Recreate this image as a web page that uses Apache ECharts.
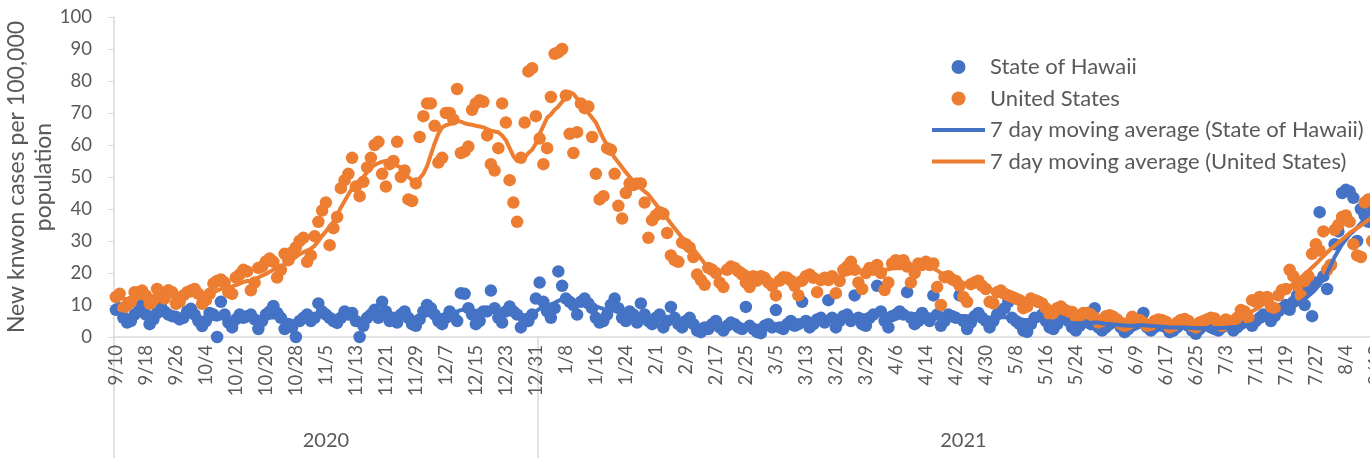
<!DOCTYPE html>
<html>
<head>
<meta charset="utf-8">
<script src="https://cdn.jsdelivr.net/npm/echarts@6/dist/echarts.min.js"></script>
<style>
html,body{margin:0;padding:0;background:#fff;}
#chart{width:1370px;height:458px;}
</style>
</head>
<body>
<div id="chart"></div>
<script>
// ---- data ----
const START_DATE = [2020, 9, 10];   // first category: 9/10/2020
const DAY_COUNT = 340;             // daily categories shown (through mid Aug 2021)
const YEAR_NAMES = ['2020', '2021'];
const yTicks = [0, 10, 20, 30, 40, 50, 60, 70, 80, 90, 100];

const hawaiiDaily = [
  8.5, 9, 6, 4.5, 5, 7, 8, 10, 7, 4,
  5.5, 7.5, 10.5, 8, 7, 6.5, 6.3, 5.5, 6, 8,
  8.8, 7, 5, 3.4, 5, 7.5, 7, 0, 11, 7,
  4.5, 3, 5.5, 7, 6, 6.5, 7, 5.5, 2.5, 5,
  7, 8, 9.7, 7.5, 6, 2.5, 4, 3, 0, 5,
  6, 7, 5, 6, 10.5, 8, 7, 6, 5, 4.4,
  6, 8, 7, 7.5, 5, 0, 3.5, 6, 7, 8.5,
  6, 11, 8, 5, 6, 4.5, 7, 8, 6, 4,
  3.5, 5.5, 8, 10, 9, 7, 5, 4, 6, 8,
  6.5, 5, 13.7, 13.5, 9, 7, 4, 5, 8, 8,
  14.5, 9, 6, 4.5, 8, 9.5, 8, 7, 3, 5,
  5, 7, 12, 17, 11, 8, 6, 9, 20.5, 16,
  12, 11, 10, 7, 11, 12, 10.5, 9, 6, 4.5,
  5, 7, 10, 12, 9, 6, 5, 8, 7, 4.5,
  10.5, 7, 5, 4, 6, 7, 3, 5, 9.4, 6,
  4, 3, 5, 6, 4, 2, 1.5, 3, 2.5, 4,
  5, 3, 2, 3.5, 4.5, 4, 3, 2.5, 9.4, 3.5,
  2.5, 1.5, 1.2, 3.5, 4, 3, 8.4, 3, 2.5, 4,
  5, 3.5, 4, 11, 5, 3, 4, 5.5, 6, 4.5,
  11.5, 6, 3, 5, 6.5, 7, 5, 13, 6, 4,
  3.5, 6, 7, 16, 8, 5, 3, 6.5, 7, 8,
  7, 14, 6, 4, 5, 7.5, 6, 5, 13, 7,
  3.5, 5, 7, 6.5, 6, 13, 5, 2.5, 4.5, 6.5,
  7.5, 6, 5, 3, 5, 7, 8, 9, 11, 6,
  5, 4, 2, 1.6, 4, 6, 11, 7, 5, 3,
  2.5, 4, 5.5, 6, 5, 3, 2, 3.5, 4.5, 5,
  4, 9, 3, 2, 3, 4, 5, 4.5, 3, 1.5,
  2.5, 3.5, 4, 4.5, 7.5, 3, 2, 3, 4, 3.5,
  3, 1.5, 2, 3, 4, 4.5, 3.5, 2, 1, 2.5,
  3.5, 4, 3, 2.5, 2, 3, 4, 3.5, 2, 3,
  4, 5, 4.5, 3.5, 5, 6, 7, 6.5, 5, 6.5,
  8, 9, 10, 8.5, 11, 13, 12, 10, 15, 6.5,
  17, 39, 19, 15, 22.5, 29, 33, 45, 46, 45.5,
  43.5, 30, 40, 38, 36, 41, 44, 43, 45, 47
];

const usDaily = [
  12.5, 13.5, 9, 10, 11, 14, 14, 14.5, 13, 10.4,
  11.5, 15, 13.5, 12, 14.6, 14, 10.4, 11, 13, 14,
  14.5, 15, 13.5, 10.4, 11.5, 13.5, 16.7, 17.5, 18, 17,
  14, 13.5, 18.6, 19.5, 21, 20.5, 14.6, 17, 21.6, 22,
  23.6, 24.5, 23.5, 18.6, 21, 26, 24, 26.5, 28, 30,
  31, 23.5, 25.5, 31.5, 36, 39.5, 42, 28.7, 34, 37.5,
  46.5, 49, 51, 56, 47, 44, 48.5, 53, 56, 60,
  61, 51, 47, 54, 55, 61, 50, 52, 43, 42.5,
  48, 62.5, 69, 73, 73, 66, 54.5, 56, 70, 70,
  68, 77.5, 57.5, 58, 59.5, 71, 73, 74, 73.5, 63,
  54, 52, 59, 73, 67, 49, 42, 36, 56, 67,
  83, 84, 69, 62, 54, 59, 75, 88.5, 89, 90,
  75.5, 63.5, 57.5, 64, 73, 71.5, 72, 62.5, 51, 43,
  44, 59, 58.5, 51, 41, 37, 45, 48, 47.5, 48,
  48, 42, 31, 36.5, 38, 39, 38.5, 32.5, 25.5, 24,
  23.5, 29.5, 29, 28, 25, 19.5, 17.8, 16.3, 21.6, 21,
  20, 17, 15.6, 21, 22, 21.6, 20.5, 19.5, 17, 15.6,
  19, 17.6, 19, 18.5, 17, 16, 13, 17.6, 18.7, 18.5,
  17.6, 16, 13, 17.6, 19, 19.5, 18.5, 14, 17.8, 18.5,
  17.8, 19, 13.7, 17.5, 21, 22, 23.5, 21, 17, 15,
  20, 21.6, 21, 22.5, 20, 14.7, 17, 23, 24, 23.5,
  24, 22, 17, 20, 23, 22.5, 23.5, 22.5, 23, 15.6,
  10, 18.7, 19, 18, 17.5, 16, 12.5, 11, 16.5, 17,
  17.6, 16, 15, 11, 10.5, 14, 14.5, 13.5, 13, 12.5,
  12, 11.5, 9, 9.5, 12, 11.5, 11, 10.5, 9, 7,
  7.5, 9, 9.5, 8.5, 8, 7.8, 6, 6.5, 7.5, 7.5,
  7, 6, 4.5, 5, 6.5, 6.8, 6.3, 5.5, 4, 3.5,
  4, 6.3, 5.5, 5.3, 4.5, 3.5, 3.8, 5, 5.5, 5.2,
  4.8, 3, 3.5, 4.5, 5.3, 5.6, 5, 3.5, 3, 4.5,
  5, 5.5, 6, 5.8, 4, 3.5, 5.5, 5, 4.5, 6,
  8.4, 8, 6, 11.5, 11, 12.5, 12, 12.5, 9.5, 9,
  13, 14.7, 15, 21, 19, 16, 13, 17.5, 19, 26,
  29, 27, 33, 21, 22.5, 33.5, 35, 37.5, 38, 36,
  29, 25.5, 25, 42, 43, 30, 31, 40, 44, 45
];

const hawaiiAvg7 = [
  7.5, 7.3, 7.0, 6.8, 6.7, 6.8, 7.0, 7.2, 7.1, 7.0,
  7.0, 7.2, 7.3, 7.2, 7.0, 6.8, 6.7, 6.6, 6.6, 6.7,
  6.7, 6.5, 6.2, 6.0, 5.9, 5.8, 5.6, 5.4, 5.8, 5.9,
  5.8, 5.6, 5.5, 5.6, 5.8, 6.0, 6.0, 5.8, 5.6, 5.5,
  5.7, 6.0, 6.2, 6.1, 5.9, 5.6, 5.3, 5.0, 4.9, 5.0,
  5.2, 5.5, 5.7, 6.0, 6.5, 6.8, 6.9, 6.8, 6.7, 6.5,
  6.4, 6.3, 6.2, 6.0, 5.8, 5.6, 5.5, 5.6, 5.9, 6.2,
  6.6, 7.0, 7.2, 7.0, 6.8, 6.6, 6.5, 6.4, 6.2, 6.0,
  6.0, 6.2, 6.5, 6.8, 7.0, 7.0, 6.9, 6.8, 7.0, 7.3,
  7.6, 8.0, 8.4, 8.6, 8.5, 8.3, 8.2, 8.3, 8.5, 8.7,
  8.8, 8.7, 8.5, 8.3, 8.0, 7.7, 7.4, 7.0, 6.8, 6.8,
  7.0, 7.4, 8.0, 8.8, 9.4, 9.8, 10.2, 10.7, 11.3, 11.8,
  12.0, 11.8, 11.5, 11.2, 10.9, 10.6, 10.3, 10.0, 9.6, 9.2,
  8.8, 8.5, 8.3, 8.2, 8.0, 7.8, 7.6, 7.3, 7.0, 6.8,
  6.7, 6.6, 6.4, 6.2, 6.0, 5.8, 5.6, 5.4, 5.2, 5.0,
  4.8, 4.6, 4.4, 4.2, 4.0, 3.8, 3.6, 3.4, 3.3, 3.2,
  3.1, 3.0, 3.0, 3.1, 3.2, 3.3, 3.3, 3.4, 3.5, 3.6,
  3.6, 3.5, 3.5, 3.6, 3.7, 3.8, 3.9, 4.0, 4.1, 4.2,
  4.3, 4.4, 4.6, 4.9, 5.2, 5.4, 5.6, 5.8, 5.9, 6.0,
  6.2, 6.3, 6.4, 6.5, 6.6, 6.6, 6.6, 6.7, 6.8, 6.8,
  6.8, 6.9, 7.0, 7.2, 7.3, 7.3, 7.2, 7.2, 7.2, 7.3,
  7.3, 7.4, 7.3, 7.2, 7.1, 7.1, 7.0, 7.0, 7.1, 7.0,
  6.9, 6.8, 6.8, 6.8, 6.7, 6.6, 6.6, 6.5, 6.4, 6.3,
  6.2, 6.1, 6.0, 6.0, 6.0, 6.1, 6.2, 6.2, 6.1, 6.0,
  5.8, 5.6, 5.4, 5.3, 5.2, 5.2, 5.3, 5.2, 5.0, 4.9,
  4.8, 4.7, 4.6, 4.5, 4.5, 4.4, 4.3, 4.3, 4.3, 4.4,
  4.4, 4.5, 4.5, 4.3, 4.1, 4.0, 3.9, 3.8, 3.7, 3.6,
  3.5, 3.5, 3.6, 3.7, 3.7, 3.6, 3.5, 3.4, 3.3, 3.2,
  3.1, 3.0, 3.0, 3.0, 3.0, 3.0, 2.9, 2.8, 2.7, 2.7,
  2.7, 2.8, 2.8, 2.8, 2.8, 2.8, 2.9, 3.0, 3.1, 3.2,
  3.4, 3.6, 3.8, 4.1, 4.4, 4.8, 5.2, 5.6, 6.0, 6.5,
  7.0, 7.6, 8.2, 8.8, 9.5, 10.2, 11.0, 11.8, 12.8, 13.8,
  15.0, 16.5, 18.0, 20.0, 22.5, 25.0, 27.0, 29.0, 30.5, 32.0,
  33.0, 34.2, 35.5, 36.8, 38.0, 39.2, 40.3, 41.4, 42.5, 43.5
];

const usAvg7 = [
  12, 12.1, 12, 11.8, 11.7, 11.9, 12.1, 12.3, 12.4, 12.3,
  12.2, 12.5, 12.8, 12.9, 12.8, 12.6, 12.5, 12.6, 12.7, 12.9,
  13.0, 13.1, 13.0, 12.9, 13.2, 13.6, 14.0, 14.5, 15.0, 15.4,
  15.5, 15.8, 16.2, 16.7, 17.2, 17.5, 17.6, 18.0, 18.6, 19.2,
  19.7, 20.4, 21.0, 21.6, 22.2, 22.6, 23.3, 24.2, 25.0, 25.9,
  26.5, 27.0, 27.6, 28.5, 30.0, 31.6, 33.0, 34.5, 36.0, 38.0,
  40.5, 42.5, 44.5, 46.5, 47.8, 49.0, 50.0, 51.5, 52.8, 53.8,
  54.3, 54.8, 55.0, 54.8, 54.3, 53.5, 53.0, 51.8, 50.0, 49.0,
  48.5, 49.5, 51.0, 53.5, 57.0, 60.5, 63.5, 65.5, 66.2, 66.5,
  67.0, 67.5, 67.3, 66.8, 66.5, 66.3, 66.0, 65.8, 65.5, 65.0,
  64.5, 64.2, 64.0, 63.0, 61.5, 59.0, 56.5, 55.0, 55.3, 56.0,
  57.5, 58.5, 60.5, 63.5, 66.0, 68.5, 69.5, 71.0, 72.0, 73.5,
  75.0, 76.5, 76.0, 74.5, 73.0, 71.5, 70.0, 68.5, 67.0, 64.5,
  62.0, 60.0, 58.0, 56.0, 54.5, 53.0, 51.5, 50.0, 48.8, 47.5,
  46.5, 45.5, 44.5, 43.0, 41.5, 40.0, 38.5, 37.0, 35.5, 34.0,
  32.5, 31.0, 29.7, 28.5, 27.5, 26.0, 24.5, 23.0, 22.0, 21.0,
  20.5, 20.3, 20.5, 20.8, 21.0, 21.3, 21.5, 21.3, 20.5, 19.8,
  19.3, 19.0, 18.5, 18.0, 17.8, 17.5, 17.2, 17.0, 17.2, 17.5,
  17.8, 18.0, 18.0, 18.3, 18.5, 18.7, 18.8, 18.8, 18.6, 18.3,
  18.0, 18.2, 18.5, 19.0, 19.3, 19.6, 20.0, 20.2, 20.3, 20.4,
  20.5, 20.6, 20.8, 21.0, 21.0, 21.0, 21.2, 21.4, 21.5, 21.5,
  21.7, 21.8, 21.6, 21.4, 21.3, 21.4, 21.6, 21.7, 21.5, 20.8,
  20.0, 19.3, 18.8, 18.3, 17.8, 17.4, 16.9, 16.5, 16.2, 16.0,
  15.8, 15.5, 15.2, 14.8, 14.3, 13.9, 13.5, 13.2, 13.0, 12.6,
  12.2, 11.8, 11.5, 11.2, 10.9, 10.6, 10.3, 10.0, 9.8, 9.5,
  9.2, 9.0, 8.7, 8.4, 8.1, 7.8, 7.6, 7.4, 7.2, 7.0,
  6.8, 6.6, 6.4, 6.2, 6.1, 6.0, 5.9, 5.7, 5.6, 5.5,
  5.4, 5.3, 5.2, 5.1, 5.0, 4.9, 4.8, 4.8, 4.7, 4.7,
  4.7, 4.6, 4.6, 4.6, 4.6, 4.6, 4.6, 4.6, 4.6, 4.6,
  4.6, 4.7, 4.8, 4.9, 5.0, 5.0, 5.1, 5.2, 5.4, 5.7,
  6.2, 6.8, 7.4, 8.0, 8.7, 9.4, 10.2, 10.9, 11.6, 12.3,
  13.0, 13.8, 14.8, 15.8, 16.7, 17.6, 18.6, 19.6, 20.6, 21.7,
  22.8, 24.0, 25.2, 26.4, 27.5, 28.5, 29.5, 30.5, 31.5, 32.5,
  33.3, 34.0, 34.8, 35.7, 36.6, 37.4, 38.2, 39.0, 39.8, 40.5
];

const seriesNames = [
  'State of Hawaii',
  'United States',
  '7 day moving average (State of Hawaii)',
  '7 day moving average (United States)'
];
const yAxisTitle = 'New knwon cases per 100,000\npopulation';

// ---- categories ----
const dateLabels = [];
const yearOfDay = [];
const t0 = Date.UTC(START_DATE[0], START_DATE[1] - 1, START_DATE[2]);
for (let i = 0; i < DAY_COUNT; i++) {
  const d = new Date(t0 + i * 86400000);
  dateLabels.push((d.getUTCMonth() + 1) + '/' + d.getUTCDate());
  yearOfDay.push(String(d.getUTCFullYear()));
}
const yearStart = {}, yearEnd = {};
yearOfDay.forEach((y, i) => { if (!(y in yearStart)) yearStart[y] = i; yearEnd[y] = i; });
const yearMid = {};
YEAR_NAMES.forEach(y => { yearMid[y] = Math.floor((yearStart[y] + yearEnd[y]) / 2); });
const yearStartIdx = new Set(YEAR_NAMES.map(y => yearStart[y]));
const yearMidIdx = new Set(YEAR_NAMES.map(y => yearMid[y]));

const BLUE = '#4472C4', ORANGE = '#ED7D31', TXT = '#595959', AXIS = '#d9d9d9';
const FONT = 'Lato, "Open Sans", sans-serif';
const LINE_ICON = 'path://M0,0L53,0L53,4L0,4Z';

const chart = echarts.init(document.getElementById('chart'), null, {renderer: 'canvas'});
chart.setOption({
  animation: false,
  backgroundColor: '#ffffff',
  textStyle: {fontFamily: FONT, color: TXT},
  grid: {left: 114, top: 17, right: -19, bottom: 121, containLabel: false, outerBoundsMode: 'none'},
  legend: {
    orient: 'vertical',
    left: 927,
    top: 51,
    itemWidth: 53,
    itemHeight: 14,
    itemGap: 9.5,
    textStyle: {fontFamily: FONT, fontSize: 22, color: TXT, lineHeight: 22},
    data: [
      {name: seriesNames[0], icon: 'circle'},
      {name: seriesNames[1], icon: 'circle'},
      {name: seriesNames[2], icon: LINE_ICON},
      {name: seriesNames[3], icon: LINE_ICON}
    ]
  },
  xAxis: [
    {
      type: 'category',
      data: dateLabels,
      boundaryGap: true,
      axisLine: {show: true, lineStyle: {color: AXIS, width: 1.5}},
      axisTick: {show: false},
      axisLabel: {interval: 7, rotate: 90, fontSize: 18.5, color: TXT, fontFamily: FONT, margin: 8}
    },
    {
      type: 'category',
      data: yearOfDay,
      position: 'bottom',
      boundaryGap: true,
      axisLine: {show: false},
      axisTick: {
        show: true,
        alignWithLabel: false,
        interval: (idx) => yearStartIdx.has(idx),
        length: 125,
        lineStyle: {color: AXIS, width: 1.5}
      },
      axisLabel: {
        interval: (idx) => yearMidIdx.has(idx),
        fontSize: 20, color: TXT, fontFamily: FONT, margin: 94
      },
      splitLine: {show: false}
    }
  ],
  yAxis: {
    type: 'value',
    min: yTicks[0],
    max: yTicks[yTicks.length - 1],
    interval: yTicks[1] - yTicks[0],
    name: yAxisTitle,
    nameLocation: 'middle',
    nameRotate: 90,
    nameGap: 57,
    nameMoveOverlap: false,
    nameTextStyle: {fontSize: 23, color: TXT, fontFamily: FONT, lineHeight: 27},
    axisLine: {show: true, lineStyle: {color: AXIS, width: 1.5}},
    axisTick: {show: true, length: 6, lineStyle: {color: AXIS}},
    axisLabel: {fontSize: 18.5, color: TXT, fontFamily: FONT, margin: 22},
    splitLine: {show: false}
  },
  series: [
    {
      name: seriesNames[0], type: 'scatter', data: hawaiiDaily,
      symbol: 'circle', symbolSize: 12.5, itemStyle: {color: BLUE, opacity: 1}
    },
    {
      name: seriesNames[1], type: 'scatter', data: usDaily,
      symbol: 'circle', symbolSize: 12.5, itemStyle: {color: ORANGE, opacity: 1}
    },
    {
      name: seriesNames[2], type: 'line', data: hawaiiAvg7,
      symbol: 'none', showSymbol: false,
      lineStyle: {color: BLUE, width: 4, cap: 'round', join: 'round'},
      itemStyle: {color: BLUE}
    },
    {
      name: seriesNames[3], type: 'line', data: usAvg7,
      symbol: 'none', showSymbol: false,
      lineStyle: {color: ORANGE, width: 4, cap: 'round', join: 'round'},
      itemStyle: {color: ORANGE}
    }
  ]
});
</script>
</body>
</html>
